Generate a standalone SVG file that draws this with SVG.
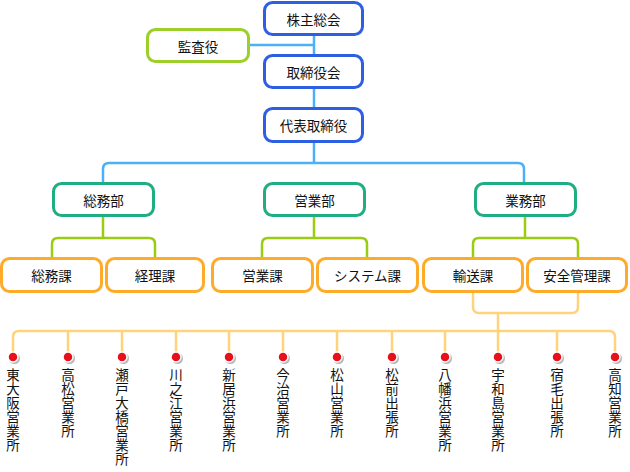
<svg xmlns="http://www.w3.org/2000/svg" width="630" height="472" viewBox="0 0 630 472">
<defs>
<style>
.t{font-family:"Noto Sans CJK JP","Noto Sans",sans-serif;font-size:13.5px;fill:#111;text-anchor:middle;dominant-baseline:central}
.v{font-family:"Noto Sans CJK JP","Noto Sans",sans-serif;font-size:13.5px;fill:#111;writing-mode:vertical-rl;letter-spacing:0.5px}
.bx{fill:#fff;stroke-width:3}
.top{stroke:#2c5fe2}
.aud{stroke:#9ccf2a}
.dep{stroke:#1fae82}
.sec{stroke:#ffab2a}
.cb{fill:none;stroke:#4db0f7;stroke-width:2.5}
.cg{fill:none;stroke:#9ccc10;stroke-width:2.5}
.co{fill:none;stroke:#ffd27e;stroke-width:2.5}
.dot{fill:#e8101a;stroke:#fff;stroke-width:1.5}
.sh{fill:#b8b8b8}
</style>
</defs>
<g id="connectors">
<path class="cb" d="M314 35V163M249 45H314"/>
<path class="cb" d="M103 182V169Q103 163 109 163H518Q524 163 524 169V182"/>
<path class="cg" d="M103 216V238M52 257V244Q52 238 58 238H149Q155 238 155 244V257"/>
<path class="cg" d="M314 216V238M262 257V244Q262 238 268 238H361Q367 238 367 244V257"/>
<path class="cg" d="M525 216V238M473 257V244Q473 238 479 238H572Q578 238 578 244V257"/>
<path class="co" d="M473 292V307Q473 313 479 313H572Q578 313 578 307V292M498 313V331"/>
<path class="co" d="M13 356V337Q13 331 19 331H609Q615 331 615 337V356"/>
<path class="co" d="M68 331V356M122 331V356M176 331V356M229 331V356M283 331V356M337 331V356M392 331V356M445 331V356M498 331V356M557 331V356"/>
</g>
<g id="n-kabunushi"><rect class="bx top" x="264.5" y="2.5" width="98" height="32" rx="8"/><text class="t" x="313.5" y="18.5">株主総会</text></g>
<g id="n-kansa"><rect class="bx aud" x="147.5" y="29.5" width="101" height="32" rx="8"/><text class="t" x="198" y="45.5">監査役</text></g>
<g id="n-torishimariyakukai"><rect class="bx top" x="264.5" y="55.5" width="98" height="32" rx="8"/><text class="t" x="313.5" y="71.5">取締役会</text></g>
<g id="n-daihyo"><rect class="bx top" x="264.5" y="108.5" width="98" height="33" rx="8"/><text class="t" x="313.5" y="125">代表取締役</text></g>
<g id="n-somubu"><rect class="bx dep" x="53.5" y="183.5" width="100" height="32" rx="8"/><text class="t" x="103.5" y="199.5">総務部</text></g>
<g id="n-eigyobu"><rect class="bx dep" x="264.5" y="183.5" width="100" height="32" rx="8"/><text class="t" x="314.5" y="199.5">営業部</text></g>
<g id="n-gyomubu"><rect class="bx dep" x="475.5" y="183.5" width="100" height="32" rx="8"/><text class="t" x="525.5" y="199.5">業務部</text></g>
<g id="n-somuka"><rect class="bx sec" x="1.5" y="258.5" width="100" height="33" rx="8"/><text class="t" x="51.5" y="275">総務課</text></g>
<g id="n-keirika"><rect class="bx sec" x="106.5" y="258.5" width="97" height="33" rx="8"/><text class="t" x="155" y="275">経理課</text></g>
<g id="n-eigyoka"><rect class="bx sec" x="212.5" y="258.5" width="100" height="33" rx="8"/><text class="t" x="262.5" y="275">営業課</text></g>
<g id="n-systemka"><rect class="bx sec" x="317.5" y="258.5" width="100" height="33" rx="8"/><text class="t" x="367.5" y="275">システム課</text></g>
<g id="n-yusoka"><rect class="bx sec" x="423.5" y="258.5" width="99" height="33" rx="8"/><text class="t" x="473" y="275">輸送課</text></g>
<g id="n-anzenka"><rect class="bx sec" x="527.5" y="258.5" width="99" height="33" rx="8"/><text class="t" x="577" y="275">安全管理課</text></g>
<g id="n-office1"><circle class="sh" cx="14.5" cy="358.5" r="5.5"/><circle class="dot" cx="13" cy="357" r="5"/><text class="v" x="13" y="368">東大阪営業所</text></g>
<g id="n-office2"><circle class="sh" cx="69.5" cy="358.5" r="5.5"/><circle class="dot" cx="68" cy="357" r="5"/><text class="v" x="68" y="368">高松営業所</text></g>
<g id="n-office3"><circle class="sh" cx="123.5" cy="358.5" r="5.5"/><circle class="dot" cx="122" cy="357" r="5"/><text class="v" x="122" y="368">瀬戸大橋営業所</text></g>
<g id="n-office4"><circle class="sh" cx="177.5" cy="358.5" r="5.5"/><circle class="dot" cx="176" cy="357" r="5"/><text class="v" x="176" y="368">川之江営業所</text></g>
<g id="n-office5"><circle class="sh" cx="230.5" cy="358.5" r="5.5"/><circle class="dot" cx="229" cy="357" r="5"/><text class="v" x="229" y="368">新居浜営業所</text></g>
<g id="n-office6"><circle class="sh" cx="284.5" cy="358.5" r="5.5"/><circle class="dot" cx="283" cy="357" r="5"/><text class="v" x="283" y="368">今治営業所</text></g>
<g id="n-office7"><circle class="sh" cx="338.5" cy="358.5" r="5.5"/><circle class="dot" cx="337" cy="357" r="5"/><text class="v" x="337" y="368">松山営業所</text></g>
<g id="n-office8"><circle class="sh" cx="393.5" cy="358.5" r="5.5"/><circle class="dot" cx="392" cy="357" r="5"/><text class="v" x="392" y="368">松前出張所</text></g>
<g id="n-office9"><circle class="sh" cx="446.5" cy="358.5" r="5.5"/><circle class="dot" cx="445" cy="357" r="5"/><text class="v" x="445" y="368">八幡浜営業所</text></g>
<g id="n-office10"><circle class="sh" cx="499.5" cy="358.5" r="5.5"/><circle class="dot" cx="498" cy="357" r="5"/><text class="v" x="498" y="368">宇和島営業所</text></g>
<g id="n-office11"><circle class="sh" cx="558.5" cy="358.5" r="5.5"/><circle class="dot" cx="557" cy="357" r="5"/><text class="v" x="557" y="368">宿毛出張所</text></g>
<g id="n-office12"><circle class="sh" cx="616.5" cy="358.5" r="5.5"/><circle class="dot" cx="615" cy="357" r="5"/><text class="v" x="615" y="368">高知営業所</text></g>
</svg>
